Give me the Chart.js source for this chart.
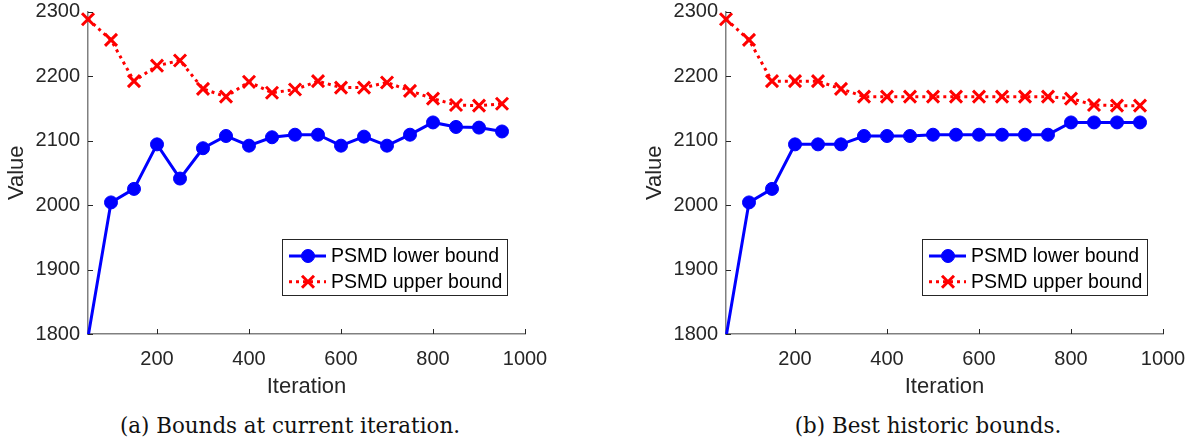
<!DOCTYPE html>
<html>
<head>
<meta charset="utf-8">
<script src="https://cdn.jsdelivr.net/npm/chart.js@4.4.1/dist/chart.umd.min.js"></script>
<style>
  html, body { margin: 0; padding: 0; background: #fff; }
  body { width: 1193px; height: 442px; position: relative; overflow: hidden; }
  .panel { position: absolute; top: 0; height: 400px; }
  .caption {
    position: absolute; top: 413px; white-space: nowrap;
    font-family: "DejaVu Serif", "Liberation Serif", serif; font-size: 21.4px; color: #111;
    transform: translateX(-50%);
  }
</style>
</head>
<body>
<div class="panel" style="left:0;width:596px"><canvas id="chartA"></canvas></div>
<div class="panel" style="left:638px;width:555px"><canvas id="chartB"></canvas></div>
<div class="caption" style="left:290px">(a) Bounds at current iteration.</div>
<div class="caption" style="left:928px">(b) Best historic bounds.</div>

<script>
// ============================================
// Data
// ============================================
const iterations = [50, 100, 150, 200, 250, 300, 350, 400, 450, 500,
                    550, 600, 650, 700, 750, 800, 850, 900, 950];

const currentLower = [1795, 2004, 2025, 2094, 2041, 2088, 2107, 2092, 2105, 2109,
                      2109, 2092, 2106, 2092, 2109, 2128, 2121, 2120, 2114];
const currentUpper = [2288, 2256, 2192, 2216, 2224, 2180, 2168, 2191, 2174, 2179,
                      2192, 2182, 2182, 2190, 2177, 2165, 2155, 2154, 2157];

const bestLower = [1795, 2004, 2025, 2094, 2094, 2094, 2107, 2107, 2107, 2109,
                   2109, 2109, 2109, 2109, 2109, 2128, 2128, 2128, 2128];
const bestUpper = [2288, 2256, 2192, 2192, 2192, 2180, 2168, 2168, 2168, 2168,
                   2168, 2168, 2168, 2168, 2168, 2165, 2155, 2154, 2154];

const xTicks = [200, 400, 600, 800, 1000];
const yTicks = [1800, 1900, 2000, 2100, 2200, 2300];

const seriesNames = ['PSMD lower bound', 'PSMD upper bound'];

// ============================================
// Styling
// ============================================
const FONT = '"Liberation Sans", Arial, Helvetica, sans-serif';
const TEXT = '#262626';
const BLUE = '#0000ff';
const RED = '#ff0000';
const Y_MIN = 1800, Y_MAX = 2300;
const CIRCLE_R = 6.5;
const CROSS_R = 8.5;

Chart.defaults.font.family = FONT;
Chart.defaults.color = TEXT;

// MATLAB-like inward tick marks
const inwardTicks = {
  id: 'inwardTicks',
  afterDatasetsDraw(chart) {
    const { ctx, scales: { x, y } } = chart;
    ctx.save();
    ctx.strokeStyle = TEXT;
    ctx.lineWidth = 1;
    ctx.beginPath();
    xTicks.forEach(v => {
      const px = Math.round(x.getPixelForValue(v)) + 0.5;
      ctx.moveTo(px, y.bottom);
      ctx.lineTo(px, y.bottom - 5);
    });
    yTicks.forEach(v => {
      const py = Math.round(y.getPixelForValue(v)) + 0.5;
      ctx.moveTo(x.left, py);
      ctx.lineTo(x.left + 5, py);
    });
    ctx.stroke();
    ctx.restore();
  }
};

// Boxed legend inside the plot, bottom right
const boxLegend = {
  id: 'boxLegend',
  afterDraw(chart, args, opts) {
    const { ctx, chartArea } = chart;
    const datasets = chart.data.datasets;
    ctx.save();
    ctx.font = '19.5px ' + FONT;
    const textW = Math.max(...datasets.map(d => ctx.measureText(d.label).width));
    const w = Math.round(49 + textW + 5);
    const h = 56;
    const x0 = Math.round(chartArea.right - opts.right - w);
    const y0 = Math.round(chartArea.bottom - opts.bottom - h);
    ctx.fillStyle = '#fff';
    ctx.fillRect(x0, y0, w, h);
    ctx.strokeStyle = TEXT;
    ctx.lineWidth = 1;
    ctx.strokeRect(x0 + 0.5, y0 + 0.5, w, h);

    datasets.forEach((ds, i) => {
      const cy = y0 + 17 + i * 25.7;
      ctx.beginPath();
      ctx.setLineDash(ds.borderDash || []);
      ctx.lineWidth = ds.borderWidth;
      ctx.strokeStyle = ds.borderColor;
      ctx.moveTo(x0 + 7, cy);
      ctx.lineTo(x0 + 44, cy);
      ctx.stroke();
      ctx.setLineDash([]);

      ctx.fillStyle = ds.pointBackgroundColor;
      ctx.strokeStyle = ds.pointBorderColor;
      ctx.lineWidth = ds.pointBorderWidth;
      Chart.helpers.drawPoint(ctx, {
        pointStyle: ds.pointStyle,
        radius: ds.markerSize,
        rotation: 0,
        borderWidth: ds.pointBorderWidth
      }, x0 + 26, cy);

      ctx.fillStyle = '#000';
      ctx.textBaseline = 'middle';
      ctx.textAlign = 'left';
      ctx.fillText(ds.label, x0 + 49, cy + 1);
    });
    ctx.restore();
  }
};

// ============================================
// Chart factory
// ============================================
const toPoints = (values) => iterations.map((it, i) => ({ x: it, y: values[i] }));
const plainNumber = (value) => String(value);

const makeChart = (canvasId, lower, upper, padRight, legendRight) => {
  const ctx = document.getElementById(canvasId).getContext('2d');
  return new Chart(ctx, {
    type: 'line',
    data: {
      datasets: [
        {
          label: seriesNames[0],
          data: toPoints(lower),
          borderColor: BLUE,
          backgroundColor: BLUE,
          borderWidth: 3,
          pointStyle: 'circle',
          markerSize: CIRCLE_R,
          pointRadius: (c) => (c.raw && c.raw.y < Y_MIN ? 0 : CIRCLE_R),
          pointBackgroundColor: BLUE,
          pointBorderColor: BLUE,
          pointBorderWidth: 1,
          tension: 0,
          clip: { left: 12, top: 12, right: 12, bottom: 0 }
        },
        {
          label: seriesNames[1],
          data: toPoints(upper),
          borderColor: RED,
          backgroundColor: RED,
          borderWidth: 3,
          borderDash: [3, 4],
          borderCapStyle: 'butt',
          pointStyle: 'crossRot',
          markerSize: CROSS_R,
          pointRadius: CROSS_R,
          pointBackgroundColor: RED,
          pointBorderColor: RED,
          pointBorderWidth: 3,
          tension: 0,
          clip: false
        }
      ]
    },
    options: {
      responsive: true,
      maintainAspectRatio: false,
      animation: false,
      events: [],
      layout: { padding: { top: 10, right: padRight, bottom: 0, left: 0 } },
      plugins: {
        legend: { display: false },
        tooltip: { enabled: false },
        boxLegend: { right: legendRight, bottom: 39 }
      },
      scales: {
        x: {
          type: 'linear',
          min: 50,
          max: 1000,
          afterBuildTicks: (s) => { s.ticks = xTicks.map(v => ({ value: v })); },
          afterFit: (s) => { s.height = 66; s.paddingLeft = 0; s.paddingRight = 0; },
          grid: { display: false, drawTicks: false },
          border: { display: true, color: '#808080', width: 1.5 },
          ticks: { font: { size: 20 }, color: TEXT, padding: 13, maxRotation: 0, autoSkip: false, callback: plainNumber },
          title: { display: true, text: 'Iteration', font: { size: 22 }, color: TEXT, padding: { top: 0, bottom: 0 } }
        },
        y: {
          type: 'linear',
          min: Y_MIN,
          max: Y_MAX,
          afterBuildTicks: (s) => { s.ticks = yTicks.map(v => ({ value: v })); },
          afterFit: (s) => { s.width = 88; s.paddingTop = 0; s.paddingBottom = 0; },
          grid: { display: false, drawTicks: false },
          border: { display: true, color: '#808080', width: 1.5 },
          ticks: { font: { size: 20 }, color: TEXT, padding: 8, callback: plainNumber },
          title: { display: true, text: 'Value', font: { size: 22 }, color: TEXT, padding: { top: 4, bottom: 0 } }
        }
      }
    },
    plugins: [inwardTicks, boxLegend]
  });
};

makeChart('chartA', currentLower, currentUpper, 71, 18);
makeChart('chartB', bestLower, bestUpper, 30, 16);
</script>
</body>
</html>
